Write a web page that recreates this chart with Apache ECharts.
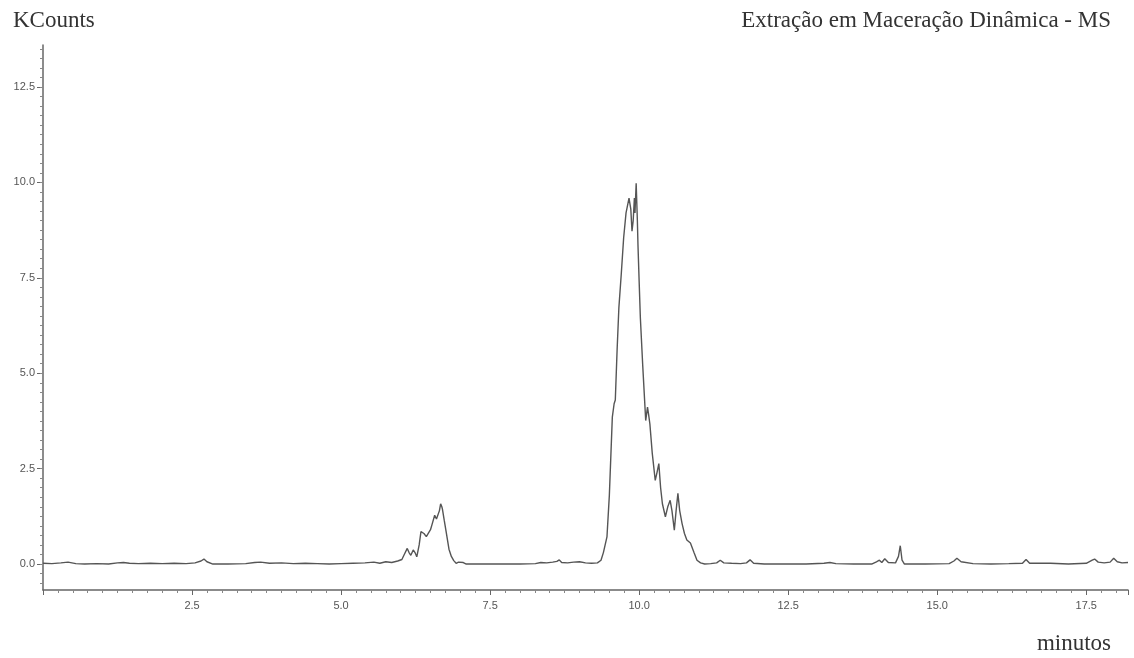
<!DOCTYPE html>
<html>
<head>
<meta charset="utf-8">
<script src="https://cdn.jsdelivr.net/npm/echarts@6/dist/echarts.min.js"></script>
<style>html,body{margin:0;padding:0;background:#fff}#c{width:1134px;height:658px}</style>
</head>
<body>
<div id="c"></div>
<script>
// retention time (minutes)
const times = [0.00,0.15,0.30,0.42,0.55,0.70,0.90,1.10,1.25,1.35,1.45,1.60,1.80,2.00,2.20,2.40,2.55,2.65,2.70,2.75,2.85,3.10,3.40,3.55,3.65,3.80,4.00,4.20,4.40,4.60,4.80,5.00,5.20,5.40,5.55,5.65,5.75,5.85,5.95,6.02,6.06,6.11,6.14,6.17,6.21,6.24,6.27,6.31,6.34,6.39,6.43,6.46,6.50,6.53,6.57,6.60,6.62,6.65,6.67,6.69,6.70,6.73,6.76,6.81,6.85,6.89,6.93,6.97,7.00,7.05,7.10,7.40,7.70,8.00,8.26,8.35,8.45,8.55,8.62,8.66,8.70,8.80,8.90,9.00,9.10,9.20,9.30,9.36,9.40,9.46,9.50,9.55,9.58,9.60,9.63,9.66,9.70,9.74,9.78,9.83,9.86,9.88,9.90,9.92,9.93,9.95,9.97,9.98,10.00,10.02,10.06,10.11,10.14,10.16,10.18,10.22,10.27,10.30,10.33,10.36,10.39,10.44,10.48,10.52,10.55,10.59,10.62,10.65,10.68,10.72,10.76,10.80,10.86,10.92,10.97,11.03,11.10,11.20,11.30,11.36,11.42,11.55,11.70,11.80,11.86,11.92,12.10,12.40,12.80,13.10,13.20,13.30,13.60,13.90,13.98,14.03,14.07,14.12,14.18,14.30,14.35,14.38,14.41,14.45,14.80,15.20,15.28,15.33,15.40,15.60,15.90,16.20,16.43,16.49,16.55,16.90,17.20,17.50,17.60,17.64,17.70,17.80,17.90,17.96,18.02,18.10,18.20];
// intensity (KCounts)
const kcounts = [0.02,0.01,0.03,0.05,0.01,0.00,0.01,0.00,0.03,0.04,0.02,0.01,0.02,0.01,0.02,0.01,0.03,0.08,0.13,0.06,0.00,0.00,0.01,0.04,0.05,0.02,0.03,0.01,0.02,0.01,0.00,0.01,0.02,0.03,0.05,0.02,0.06,0.04,0.08,0.12,0.25,0.41,0.30,0.23,0.37,0.30,0.19,0.50,0.85,0.80,0.72,0.67,0.90,1.06,1.28,1.18,1.13,1.40,1.58,1.50,1.44,1.15,0.87,0.39,0.20,0.09,0.02,0.05,0.02,0.04,0.00,0.00,0.00,0.00,0.01,0.04,0.03,0.05,0.07,0.11,0.04,0.03,0.05,0.06,0.03,0.02,0.03,0.10,0.30,0.71,1.80,3.85,4.20,4.30,5.60,6.72,7.60,8.55,9.20,9.59,9.30,8.72,9.00,9.59,9.20,9.98,9.00,8.37,7.40,6.46,5.20,3.76,4.11,3.90,3.67,2.90,2.19,2.40,2.63,2.00,1.58,1.24,1.50,1.67,1.40,0.89,1.40,1.85,1.40,1.06,0.80,0.63,0.55,0.30,0.10,0.03,0.00,0.01,0.03,0.10,0.03,0.02,0.01,0.03,0.11,0.02,0.00,0.00,0.00,0.02,0.04,0.01,0.00,0.00,0.06,0.10,0.04,0.14,0.04,0.03,0.20,0.48,0.10,0.00,0.00,0.01,0.08,0.15,0.06,0.01,0.00,0.01,0.02,0.12,0.02,0.02,0.00,0.02,0.10,0.13,0.05,0.03,0.05,0.15,0.06,0.03,0.04];
const yMajor = [0, 2.5, 5, 7.5, 10, 12.5];
const yMinor = [];
for (let v = -0.5; v <= 13.5001; v += 0.25) yMinor.push(Math.round(v * 100) / 100);

const data = times.map((t, i) => [t, kcounts[i]]);
const axisColor = '#666';
const serif = {fontFamily: 'Liberation Serif', fontSize: 23, fontWeight: 'normal', color: '#333'};
const chart = echarts.init(document.getElementById('c'), null, {renderer: 'canvas'});
chart.setOption({
  animation: false,
  backgroundColor: '#fff',
  title: [
    {text: 'KCounts', left: 8, top: 4, textStyle: serif},
    {text: 'Extração em Maceração Dinâmica - MS', right: 18, top: 4, textStyle: serif},
    {text: 'minutos', right: 18, top: 627, textStyle: serif}
  ],
  grid: {left: 43, right: 6, top: 45, bottom: 68, containLabel: false},
  xAxis: {
    type: 'value', min: 0, max: 18.2, interval: 2.5,
    axisLine: {show: true, onZero: false, lineStyle: {color: axisColor, width: 1.5}},
    axisTick: {show: true, length: 5, lineStyle: {color: axisColor}},
    minorTick: {show: true, splitNumber: 10, length: 3, lineStyle: {color: '#888'}},
    splitLine: {show: false},
    axisLabel: {margin: 10, showMaxLabel: false, fontFamily: 'Arial, Liberation Sans', fontSize: 11, color: '#555',
      formatter: v => (v === 0 || v > 18 ? '' : v.toFixed(1))}
  },
  yAxis: [
    {
      type: 'value', min: -0.68, max: 13.6,
      axisLine: {show: true, onZero: false, lineStyle: {color: axisColor, width: 1.5}},
      axisTick: {show: true, length: 6, customValues: yMajor, lineStyle: {color: axisColor}},
      splitLine: {show: false},
      axisLabel: {customValues: yMajor, margin: 8, fontFamily: 'Arial, Liberation Sans', fontSize: 11, color: '#555',
        formatter: v => Number(v).toFixed(1)}
    },
    {
      type: 'value', min: -0.68, max: 13.6, position: 'left',
      axisLine: {show: false, onZero: false},
      axisTick: {show: true, length: 3, customValues: yMinor, lineStyle: {color: '#888'}},
      splitLine: {show: false},
      axisLabel: {show: false}
    }
  ],
  series: [{
    type: 'line', data: data, xAxisIndex: 0, yAxisIndex: 0,
    showSymbol: false, symbol: 'none',
    lineStyle: {color: '#555', width: 1.4}
  }]
});
</script>
</body>
</html>
